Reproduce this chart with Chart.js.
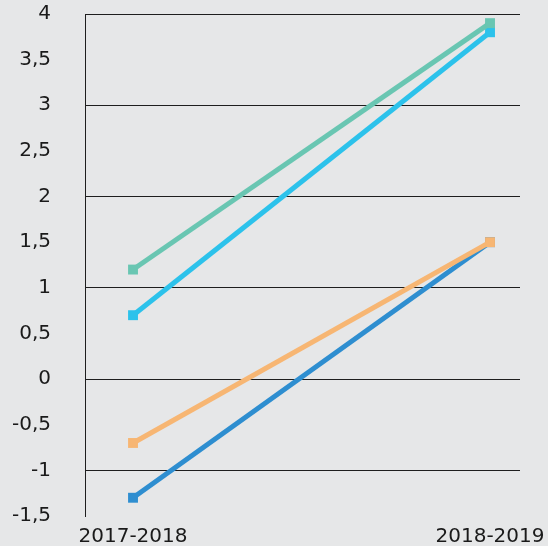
<!DOCTYPE html>
<html>
<head>
<meta charset="utf-8">
<script src="https://cdn.jsdelivr.net/npm/chart.js@4/dist/chart.umd.min.js"></script>
<style>
  html, body { margin: 0; padding: 0; background: #e6e7e8; }
  #wrap { width: 548px; height: 546px; }
</style>
</head>
<body>
<div id="wrap"><canvas id="chart" width="548" height="546"></canvas></div>
<script>
// periods on the x axis
const periods = ['2017-2018', '2018-2019'];

// series values
const greenValues = [1.2, 3.9];
const cyanValues = [0.7, 3.8];
const orangeValues = [-0.7, 1.5];
const blueValues = [-1.3, 1.5];

// y axis range
const yMin = -1.5;
const yMax = 4;
const yStep = 0.5;

const toPoints = vals => vals.map((v, i) => ({ x: i, y: v }));

function series(vals, color) {
    return {
        data: toPoints(vals),
        borderColor: color,
        backgroundColor: color,
        borderWidth: 5,
        pointStyle: 'rect',
        pointRadius: 7,
        pointHoverRadius: 7,
        pointBorderWidth: 0,
        tension: 0
    };
}

const font = { family: 'DejaVu Sans', size: 20 };

new Chart(document.getElementById('chart'), {
    type: 'line',
    data: {
        datasets: [
            series(greenValues, '#69c6b2'),
            series(orangeValues, '#f7b673'),
            series(cyanValues, '#2cc2eb'),
            series(blueValues, '#2e8ed0')
        ]
    },
    options: {
        responsive: false,
        animation: false,
        layout: { padding: { top: 14, right: 28, bottom: 0, left: 0 } },
        plugins: { legend: { display: false }, tooltip: { enabled: false } },
        scales: {
            x: {
                type: 'linear',
                min: -0.1345,
                max: 1.084,
                afterBuildTicks: axis => { axis.ticks = periods.map((p, i) => ({ value: i })); },
                afterFit: axis => {
                    axis.height = 30;
                    axis.paddingLeft = 0;
                    axis.paddingRight = 0;
                },
                grid: { display: false, drawTicks: false },
                border: { display: false },
                ticks: {
                    color: '#1a1a1a',
                    font: font,
                    padding: 9,
                    maxRotation: 0,
                    autoSkip: false,
                    callback: v => periods[v]
                }
            },
            y: {
                min: yMin,
                max: yMax,
                afterFit: axis => {
                    axis.width = 85;
                    axis.paddingTop = 0;
                    axis.paddingBottom = 0;
                },
                grid: {
                    drawTicks: false,
                    color: ctx => Number.isInteger(ctx.tick.value) ? '#1e1e1e' : 'rgba(0,0,0,0)',
                    lineWidth: 1
                },
                border: { display: true, color: '#1e1e1e', width: 1 },
                ticks: {
                    stepSize: yStep,
                    color: '#1a1a1a',
                    font: font,
                    padding: 34,
                    callback: v => String(v).replace('.', ',')
                }
            }
        }
    }
});
</script>
</body>
</html>
